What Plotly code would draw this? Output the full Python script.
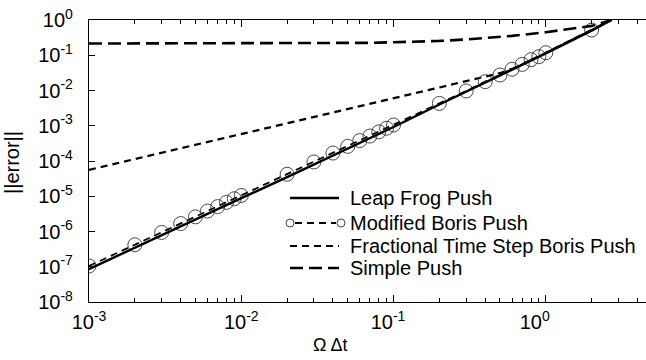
import plotly.graph_objects as go

# Normalised time step values (Omega * dt)
omega = [0.001, 0.002, 0.003, 0.004, 0.005, 0.006, 0.007, 0.008, 0.009,
         0.01, 0.02, 0.03, 0.04, 0.05, 0.06, 0.07, 0.08, 0.09,
         0.1, 0.2, 0.3, 0.4, 0.5, 0.6, 0.7, 0.8, 0.9,
         1.0, 2.0, 2.7]

# Error norms for each pusher
leap_frog = [8.6e-8, 3.5e-7, 7.8e-7, 1.4e-6, 2.2e-6, 3.15e-6, 4.3e-6, 5.6e-6, 7.1e-6,
             8.8e-6, 3.5e-5, 8.0e-5, 1.42e-4, 2.25e-4, 3.25e-4, 4.45e-4, 5.8e-4, 7.4e-4,
             9.2e-4, 4.0e-3, 9.2e-3, 0.017, 0.027, 0.039, 0.054, 0.072, 0.09,
             0.113, 0.5, 1.0]
modified_boris = [1.05e-7, 4.2e-7, 9.4e-7, 1.68e-6, 2.6e-6, 3.8e-6, 5.1e-6, 6.7e-6, 8.5e-6,
                  1.05e-5, 4.2e-5, 9.4e-5, 1.68e-4, 2.6e-4, 3.8e-4, 5.1e-4, 6.7e-4, 8.5e-4,
                  1.05e-3, 4.3e-3, 9.7e-3, 0.0178, 0.0275, 0.040, 0.055, 0.075, 0.091,
                  0.118, 0.52, 1.0]
fractional_boris = [5.6e-5, 1.13e-4, 1.7e-4, 2.27e-4, 2.84e-4, 3.4e-4, 3.98e-4, 4.55e-4, 5.1e-4,
                    5.7e-4, 1.14e-3, 1.71e-3, 2.28e-3, 2.86e-3, 3.44e-3, 4.02e-3, 4.6e-3, 5.2e-3,
                    5.8e-3, 0.0122, 0.0185, 0.0245, 0.031, 0.041, 0.055, 0.075, 0.092,
                    0.118, 0.52, 1.0]
simple_push = [0.215, 0.215, 0.215, 0.215, 0.215, 0.215, 0.215, 0.215, 0.215,
               0.215, 0.216, 0.217, 0.218, 0.22, 0.222, 0.225, 0.228, 0.23,
               0.232, 0.255, 0.28, 0.305, 0.33, 0.355, 0.38, 0.40, 0.425,
               0.45, 0.68, 1.0]

# Number of sampled points that carry a circle marker (the last point is the line end)
n_marked = 29

series_names = ["Leap Frog Push", "Modified Boris Push",
                "Fractional Time Step Boris Push", "Simple Push"]

NBSP = "\u00a0"
x_major = [0.001, 0.01, 0.1, 1.0]
x_major_text = ["10<sup>-3</sup>", "10<sup>-2</sup>",
                "10<sup>-1</sup>" + NBSP * 2, "10<sup>0</sup>" + NBSP * 4]
x_minor = [m * d for d in [0.001, 0.01, 0.1, 1.0] for m in range(2, 10)]
y_major = [1e-8, 1e-7, 1e-6, 1e-5, 1e-4, 1e-3, 1e-2, 1e-1, 1.0]
y_major_text = ["10<sup>-8</sup>", "10<sup>-7</sup>", "10<sup>-6</sup>", "10<sup>-5</sup>",
                "10<sup>-4</sup>", "10<sup>-3</sup>", "10<sup>-2</sup>", "10<sup>-1</sup>",
                "10<sup>0</sup>"]

FONT = "Liberation Sans, Arial, Helvetica, sans-serif"
INK = "#000000"

fig = go.Figure()

fig.add_trace(go.Scatter(x=omega, y=simple_push, mode="lines", name=series_names[3],
                         line=dict(color=INK, width=2.6, dash="13px,6px")))
fig.add_trace(go.Scatter(x=omega, y=fractional_boris, mode="lines", name=series_names[2],
                         line=dict(color=INK, width=2.2, dash="7px,5px")))
fig.add_trace(go.Scatter(x=omega, y=modified_boris, mode="lines", name=series_names[1],
                         line=dict(color=INK, width=1.8, dash="7px,5px")))
fig.add_trace(go.Scatter(x=omega[:n_marked], y=modified_boris[:n_marked], mode="markers",
                         name=series_names[1], showlegend=False,
                         marker=dict(symbol="circle-open", size=14,
                                     color="#333333", line=dict(width=0.9, color="#333333"))))
fig.add_trace(go.Scatter(x=omega, y=leap_frog, mode="lines", name=series_names[0],
                         line=dict(color=INK, width=2.4)))

# Plot-area geometry in pixels, used for placing the hand-built legend
W, H = 646, 360
L, R, T, B = 89, 0, 20, 58
pw, ph = W - L - R, H - T - B


def px(xp):
    return (xp - L) / pw


def py(yp):
    return (H - B - yp) / ph


shapes = []
annotations = []
legend_rows = [198, 223, 246, 268]
lx0, lx1, text_x = 290, 339, 348
styles = [
    dict(width=2.4, dash="solid"),
    dict(width=1.8, dash="7px,5px"),
    dict(width=2.2, dash="7px,5px"),
    dict(width=2.6, dash="13px,6px"),
]
for i, (name, yrow) in enumerate(zip(series_names, legend_rows)):
    if i == 1:
        x_start, x_end = lx0 + 5, lx1 - 3
    else:
        x_start, x_end = lx0, lx1
    shapes.append(dict(type="line", xref="paper", yref="paper",
                       x0=px(x_start), x1=px(x_end), y0=py(yrow), y1=py(yrow),
                       line=dict(color=INK, width=styles[i]["width"], dash=styles[i]["dash"])))
    annotations.append(dict(text=name, xref="paper", yref="paper",
                            x=px(text_x), y=py(yrow), xanchor="left", yanchor="middle",
                            showarrow=False, font=dict(family=FONT, size=20, color=INK)))
    if i == 1:
        for cx in (lx0, lx1 + 2):
            shapes.append(dict(type="circle", xref="paper", yref="paper",
                               x0=px(cx - 4), x1=px(cx + 4), y0=py(yrow + 4), y1=py(yrow - 4),
                               line=dict(color="#333333", width=0.9)))

# Axis titles
annotations.append(dict(text="Ω Δt", xref="paper", yref="paper", x=px(330), y=py(345),
                        xanchor="center", yanchor="middle", showarrow=False,
                        font=dict(family=FONT, size=18, color=INK)))
annotations.append(dict(text="||error||", xref="paper", yref="paper", x=px(12), y=py(163),
                        xanchor="center", yanchor="middle", showarrow=False, textangle=-90,
                        font=dict(family=FONT, size=20, color=INK)))

fig.update_layout(
    width=W, height=H,
    margin=dict(l=L, r=R, t=T, b=B),
    paper_bgcolor="white", plot_bgcolor="white",
    showlegend=False,
    font=dict(family=FONT, size=19, color=INK),
    shapes=shapes, annotations=annotations,
)
fig.update_xaxes(
    type="log", range=[-3, 0.658],
    tickmode="array", tickvals=x_major, ticktext=x_major_text,
    ticks="inside", ticklen=7, tickwidth=1, tickcolor=INK,
    tickfont=dict(family=FONT, size=20, color=INK),
    minor=dict(tickmode="array", tickvals=x_minor, ticks="inside", ticklen=4,
               tickwidth=1, tickcolor=INK, showgrid=False),
    showline=True, linecolor=INK, linewidth=1.2, mirror="ticks",
    showgrid=False, zeroline=False, ticklabelstandoff=2,
)
fig.update_yaxes(
    type="log", range=[-8, 0],
    tickmode="array", tickvals=y_major, ticktext=y_major_text,
    ticks="inside", ticklen=6, tickwidth=1, tickcolor=INK,
    tickfont=dict(family=FONT, size=20, color=INK),
    showline=True, linecolor=INK, linewidth=1.2, mirror=False,
    showgrid=False, zeroline=False, ticklabelstandoff=11,
)

fig.write_html("out.html")
